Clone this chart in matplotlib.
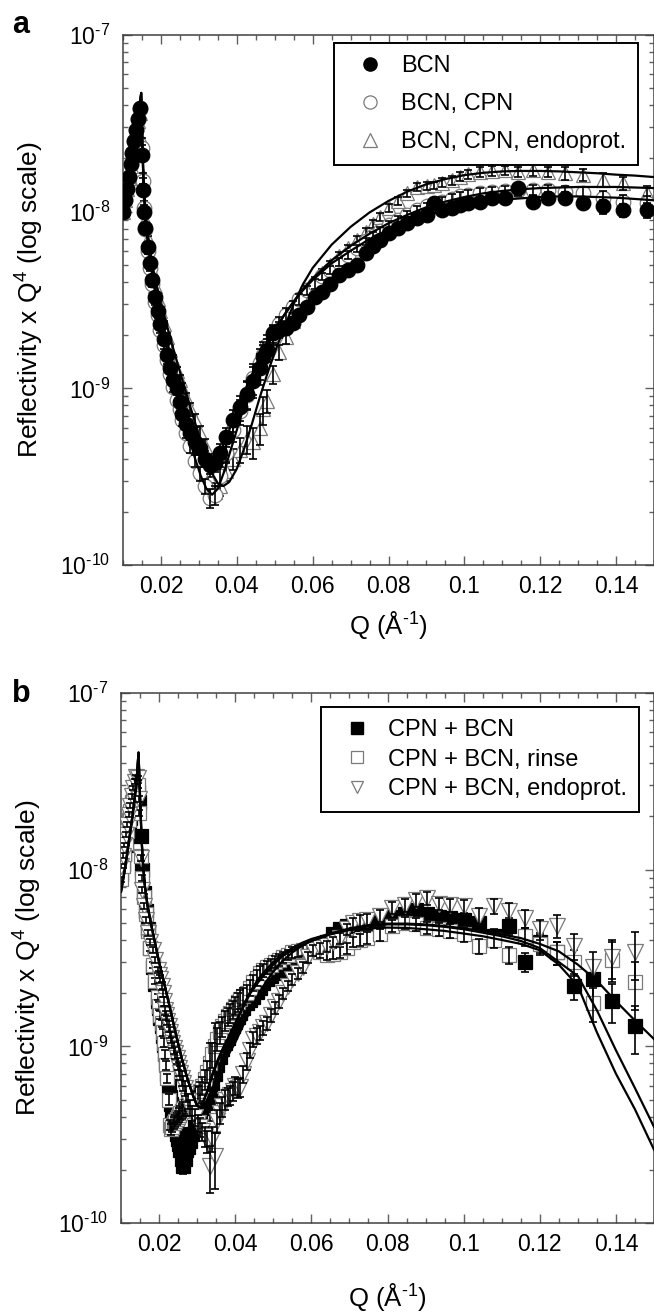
import numpy as np
import matplotlib
matplotlib.use('Agg')
import matplotlib.pyplot as plt
from matplotlib.lines import Line2D
from matplotlib.ticker import FixedLocator, MultipleLocator, LogLocator, NullFormatter

plt.rcParams['font.family'] = ['Liberation Sans', 'DejaVu Sans']
plt.rcParams['mathtext.fontset'] = 'custom'
plt.rcParams['mathtext.rm'] = 'Liberation Sans'
plt.rcParams['mathtext.it'] = 'Liberation Sans:italic'
plt.rcParams['mathtext.bf'] = 'Liberation Sans:bold'
plt.rcParams['axes.unicode_minus'] = False

# ---------------- panel a data ----------------
q_a = [0.0100, 0.0105, 0.0110, 0.0115, 0.0120, 0.0125, 0.0130, 0.0135, 0.0140, 0.0145,
       0.0150, 0.0153, 0.0156, 0.0159, 0.0165, 0.0171, 0.0177, 0.0184, 0.0191, 0.0198,
       0.0207, 0.0216, 0.0224, 0.0232, 0.0242, 0.0249, 0.0256, 0.0266, 0.0277, 0.0290,
       0.0303, 0.0316, 0.0329, 0.0342, 0.0356, 0.0372, 0.0390, 0.0408, 0.0427, 0.0444,
       0.0461, 0.0470, 0.0480, 0.0495, 0.0510, 0.0530, 0.0548, 0.0565, 0.0585, 0.0605,
       0.0625, 0.0646, 0.0670, 0.0693, 0.0717, 0.0740, 0.0760, 0.0778, 0.0800, 0.0825,
       0.0849, 0.0875, 0.0901, 0.0920, 0.0941, 0.0967, 0.0989, 0.1010, 0.1041, 0.1073,
       0.1107, 0.1141, 0.1181, 0.1221, 0.1265, 0.1313, 0.1366, 0.1418, 0.1481]

r_bcn = [1.00e-8, 1.17e-8, 1.35e-8, 1.58e-8, 1.85e-8, 2.15e-8, 2.50e-8, 2.90e-8, 3.35e-8, 3.85e-8,
         2.10e-8, 1.33e-8, 1.00e-8, 8.1e-9, 6.3e-9, 5.1e-9, 4.1e-9, 3.3e-9, 2.75e-9, 2.3e-9,
         1.9e-9, 1.55e-9, 1.3e-9, 1.12e-9, 1.0e-9, 8.4e-10, 7.2e-10, 6.3e-10, 5.6e-10, 5.0e-10,
         4.6e-10, 4.0e-10, 3.7e-10, 3.8e-10, 4.3e-10, 5.3e-10, 6.6e-10, 7.8e-10, 9.3e-10, 1.1e-9,
         1.3e-9, 1.5e-9, 1.65e-9, 2.05e-9, 2.15e-9, 2.2e-9, 2.35e-9, 2.6e-9, 2.9e-9, 3.3e-9,
         3.5e-9, 3.9e-9, 4.4e-9, 4.7e-9, 5.0e-9, 5.8e-9, 6.4e-9, 6.9e-9, 7.6e-9, 8.1e-9,
         8.6e-9, 9.2e-9, 9.6e-9, 1.12e-8, 1.02e-8, 1.05e-8, 1.09e-8, 1.12e-8, 1.14e-8, 1.2e-8,
         1.2e-8, 1.36e-8, 1.14e-8, 1.2e-8, 1.2e-8, 1.12e-8, 1.07e-8, 1.02e-8, 1.02e-8]

r_bcn_cpn = [1.00e-8, 1.17e-8, 1.36e-8, 1.58e-8, 1.85e-8, 2.15e-8, 2.50e-8, 2.90e-8, 3.35e-8, 3.80e-8,
             2.30e-8, 1.50e-8, 1.05e-8, 8.0e-9, 6.0e-9, 4.8e-9, 3.9e-9, 3.1e-9, 2.6e-9, 2.15e-9,
             1.75e-9, 1.45e-9, 1.2e-9, 1.02e-9, 8.6e-10, 7.6e-10, 6.6e-10, 5.6e-10, 4.7e-10, 3.9e-10,
             3.3e-10, 2.8e-10, 2.4e-10, 2.5e-10, 3.2e-10, 4.3e-10, 5.8e-10, 7.4e-10, 9.2e-10, 1.15e-9,
             1.4e-9, 1.55e-9, 1.75e-9, 2.0e-9, 2.3e-9, 2.6e-9, 2.9e-9, 3.2e-9, 3.6e-9, 3.9e-9,
             4.3e-9, 4.7e-9, 5.2e-9, 5.7e-9, 6.2e-9, 6.8e-9, 7.3e-9, 7.8e-9, 8.4e-9, 9.0e-9,
             9.6e-9, 1.02e-8, 1.07e-8, 1.1e-8, 1.14e-8, 1.18e-8, 1.22e-8, 1.25e-8, 1.28e-8, 1.3e-8,
             1.31e-8, 1.32e-8, 1.33e-8, 1.33e-8, 1.3e-8, 1.28e-8, 1.2e-8, 1.14e-8, 1.12e-8]

r_bcn_endo = [1.00e-8, 1.16e-8, 1.34e-8, 1.56e-8, 1.82e-8, 2.12e-8, 2.45e-8, 2.85e-8, 3.25e-8, 3.60e-8,
              2.50e-8, 1.60e-8, 1.10e-8, 9.0e-9, 7.0e-9, 5.6e-9, 4.6e-9, 3.8e-9, 3.2e-9, 2.75e-9,
              2.3e-9, 1.95e-9, 1.65e-9, 1.45e-9, 1.25e-9, 1.12e-9, 1.0e-9, 8.8e-10, 7.6e-10, 6.6e-10,
              5.6e-10, 4.7e-10, 3.6e-10, 2.6e-10, 2.8e-10, 3.4e-10, 4.0e-10, 4.5e-10, 5.2e-10, 5.0e-10,
              6.0e-10, 7.6e-10, 8.5e-10, 1.2e-9, 1.6e-9, 1.95e-9, 2.4e-9, 2.9e-9, 3.6e-9, 4.0e-9,
              4.5e-9, 5.0e-9, 5.6e-9, 6.2e-9, 6.9e-9, 7.7e-9, 8.5e-9, 9.3e-9, 1.05e-8, 1.15e-8,
              1.27e-8, 1.38e-8, 1.4e-8, 1.41e-8, 1.46e-8, 1.51e-8, 1.58e-8, 1.63e-8, 1.68e-8, 1.7e-8,
              1.72e-8, 1.68e-8, 1.72e-8, 1.68e-8, 1.65e-8, 1.62e-8, 1.51e-8, 1.45e-8, 1.27e-8]

err_a = [0.03, 0.03, 0.03, 0.03, 0.03, 0.03, 0.03, 0.03, 0.03, 0.03,
         0.04, 0.04, 0.04, 0.04, 0.04, 0.04, 0.04, 0.04, 0.04, 0.04,
         0.05, 0.05, 0.05, 0.06, 0.06, 0.06, 0.07, 0.07, 0.08, 0.08,
         0.09, 0.10, 0.12, 0.12, 0.12, 0.12, 0.14, 0.16, 0.18, 0.20,
         0.20, 0.18, 0.15, 0.12, 0.10, 0.09, 0.08, 0.07, 0.06, 0.06,
         0.05, 0.05, 0.05, 0.05, 0.05, 0.05, 0.05, 0.05, 0.05, 0.05,
         0.05, 0.05, 0.05, 0.05, 0.06, 0.06, 0.06, 0.06, 0.06, 0.06,
         0.06, 0.07, 0.07, 0.07, 0.08, 0.08, 0.09, 0.09, 0.10]

fq_a = [0.0100, 0.0110, 0.0120, 0.0130, 0.0140, 0.0148, 0.0151, 0.0154, 0.0158, 0.0163,
        0.0170, 0.0180, 0.0190, 0.0200, 0.0215, 0.0230, 0.0245, 0.0260, 0.0275, 0.0290,
        0.0305, 0.0320, 0.0335, 0.0350, 0.0365, 0.0380, 0.0400, 0.0420, 0.0440, 0.0460,
        0.0480, 0.0500, 0.0525, 0.0550, 0.0575, 0.0600, 0.0650, 0.0700, 0.0750, 0.0800,
        0.0850, 0.0900, 0.0950, 0.1000, 0.1050, 0.1100, 0.1150, 0.1200, 0.1250, 0.1300,
        0.1350, 0.1400, 0.1450, 0.1500]

fit_bcn = [1.0e-8, 1.3e-8, 1.75e-8, 2.4e-8, 3.4e-8, 4.7e-8, 2.4e-8, 1.45e-8, 1.0e-8, 7.5e-9,
           5.7e-9, 4.2e-9, 3.25e-9, 2.6e-9, 1.9e-9, 1.4e-9, 1.05e-9, 8.0e-10, 6.3e-10, 5.1e-10,
           4.3e-10, 3.9e-10, 3.8e-10, 4.1e-10, 4.8e-10, 5.8e-10, 7.5e-10, 9.6e-10, 1.2e-9, 1.5e-9,
           1.8e-9, 2.15e-9, 2.6e-9, 3.1e-9, 3.6e-9, 4.1e-9, 5.1e-9, 6.0e-9, 7.0e-9, 7.9e-9,
           8.7e-9, 9.5e-9, 1.02e-8, 1.08e-8, 1.13e-8, 1.17e-8, 1.19e-8, 1.21e-8, 1.22e-8, 1.22e-8,
           1.21e-8, 1.2e-8, 1.18e-8, 1.16e-8]

fit_bcn_cpn = [1.0e-8, 1.3e-8, 1.75e-8, 2.4e-8, 3.4e-8, 4.7e-8, 2.4e-8, 1.45e-8, 1.0e-8, 7.5e-9,
               5.6e-9, 4.0e-9, 3.0e-9, 2.35e-9, 1.7e-9, 1.25e-9, 9.2e-10, 6.9e-10, 5.2e-10, 4.0e-10,
               3.2e-10, 2.7e-10, 2.5e-10, 2.7e-10, 3.3e-10, 4.2e-10, 5.8e-10, 8.0e-10, 1.07e-9, 1.38e-9,
               1.72e-9, 2.1e-9, 2.6e-9, 3.1e-9, 3.65e-9, 4.2e-9, 5.3e-9, 6.4e-9, 7.5e-9, 8.6e-9,
               9.6e-9, 1.06e-8, 1.14e-8, 1.21e-8, 1.27e-8, 1.31e-8, 1.34e-8, 1.36e-8, 1.37e-8, 1.38e-8,
               1.38e-8, 1.38e-8, 1.37e-8, 1.36e-8]

fit_bcn_endo = [1.0e-8, 1.3e-8, 1.75e-8, 2.4e-8, 3.4e-8, 4.7e-8, 2.6e-8, 1.6e-8, 1.12e-8, 8.5e-9,
                6.3e-9, 4.7e-9, 3.7e-9, 3.0e-9, 2.3e-9, 1.75e-9, 1.35e-9, 1.05e-9, 8.2e-10, 6.4e-10,
                5.0e-10, 4.0e-10, 3.3e-10, 2.9e-10, 2.8e-10, 2.95e-10, 3.5e-10, 4.6e-10, 6.3e-10, 8.8e-10,
                1.2e-9, 1.6e-9, 2.2e-9, 3.0e-9, 3.9e-9, 4.8e-9, 6.5e-9, 8.2e-9, 9.9e-9, 1.15e-8,
                1.3e-8, 1.43e-8, 1.53e-8, 1.61e-8, 1.66e-8, 1.69e-8, 1.7e-8, 1.7e-8, 1.69e-8, 1.67e-8,
                1.65e-8, 1.62e-8, 1.6e-8, 1.57e-8]

# ---------------- panel b data ----------------
q_b = [0.0100, 0.0104, 0.0108, 0.0112, 0.0116, 0.0120, 0.0124, 0.0128, 0.0132, 0.0136, 0.0140, 0.0144,
       0.0148, 0.0152, 0.0156, 0.0161, 0.0166, 0.0171, 0.0177, 0.0184, 0.0190, 0.0197,
       0.0200, 0.0203, 0.0207, 0.0210, 0.0213, 0.0216, 0.0219, 0.0222, 0.0226, 0.0229,
       0.0232, 0.0235, 0.0239, 0.0242, 0.0246, 0.0249, 0.0252, 0.0255, 0.0259, 0.0263,
       0.0267, 0.0272, 0.0276, 0.0281, 0.0287, 0.0294, 0.0301, 0.0308, 0.0314, 0.0321,
       0.0327, 0.0334, 0.0340, 0.0347, 0.0353, 0.0360, 0.0366, 0.0373, 0.0380, 0.0386,
       0.0393, 0.0400, 0.0407, 0.0413, 0.0421, 0.0430, 0.0438, 0.0447, 0.0456, 0.0465,
       0.0474, 0.0484, 0.0494, 0.0505, 0.0515, 0.0526, 0.0538, 0.0550, 0.0564, 0.0578,
       0.0591, 0.0605, 0.0623, 0.0641, 0.0658, 0.0675, 0.0693, 0.0710, 0.0728, 0.0746,
       0.0780, 0.0812, 0.0845, 0.0875, 0.0905, 0.0935, 0.0965, 0.1000, 0.1040, 0.1080,
       0.1120, 0.1160, 0.1200, 0.1245, 0.1290, 0.1340, 0.1390, 0.1450]

r_cpn_bcn = [9.5e-9, 1.08e-8, 1.22e-8, 1.38e-8, 1.55e-8, 1.75e-8, 1.95e-8, 2.15e-8, 2.35e-8, 2.55e-8, 2.7e-8, 2.75e-8,
             2.4e-8, 1.55e-8, 1.0e-8, 7.4e-9, 5.8e-9, 4.6e-9, 3.6e-9, 2.8e-9, 2.25e-9, 1.8e-9,
             1.65e-9, 1.45e-9, 1.3e-9, 1.15e-9, 1.02e-9, 9.0e-10, 8.0e-10, 7.0e-10, 6.0e-10, 5.2e-10,
             4.7e-10, 4.2e-10, 3.8e-10, 3.5e-10, 3.2e-10, 3.0e-10, 2.8e-10, 2.6e-10, 2.3e-10, 2.1e-10,
             2.3e-10, 2.6e-10, 2.7e-10, 2.9e-10, 3.2e-10, 3.5e-10, 3.9e-10, 4.2e-10, 4.5e-10, 4.8e-10,
             5.1e-10, 5.4e-10, 6.2e-10, 7.0e-10, 7.8e-10, 8.7e-10, 9.6e-10, 1.05e-9, 1.12e-9, 1.2e-9,
             1.3e-9, 1.38e-9, 1.47e-9, 1.55e-9, 1.65e-9, 1.75e-9, 1.82e-9, 1.9e-9, 2.02e-9, 2.15e-9,
             2.28e-9, 2.4e-9, 2.5e-9, 2.6e-9, 2.65e-9, 2.7e-9, 2.85e-9, 3.0e-9, 3.2e-9, 3.4e-9,
             3.5e-9, 3.6e-9, 3.75e-9, 3.9e-9, 4.3e-9, 4.6e-9, 4.8e-9, 5.0e-9, 4.9e-9, 4.9e-9,
             5.2e-9, 5.4e-9, 5.6e-9, 5.9e-9, 5.6e-9, 5.4e-9, 5.3e-9, 5.2e-9, 5.0e-9, 4.2e-9,
             4.8e-9, 3.0e-9, 3.9e-9, 3.4e-9, 2.2e-9, 2.4e-9, 1.8e-9, 1.3e-9]

r_cpn_rinse = [8.8e-9, 1.05e-8, 1.22e-8, 1.42e-8, 1.65e-8, 1.9e-8, 2.15e-8, 2.4e-8, 2.65e-8, 2.85e-8, 3.0e-8, 3.0e-8,
               2.1e-8, 1.2e-8, 9.0e-9, 7.0e-9, 5.6e-9, 4.5e-9, 3.6e-9, 2.9e-9, 2.35e-9, 1.9e-9,
               1.7e-9, 1.5e-9, 1.35e-9, 1.2e-9, 1.05e-9, 9.0e-10, 7.8e-10, 6.6e-10, 5.0e-10, 3.6e-10,
               3.4e-10, 3.5e-10, 3.7e-10, 3.8e-10, 3.9e-10, 4.0e-10, 4.1e-10, 4.2e-10, 4.3e-10, 4.4e-10,
               4.5e-10, 4.6e-10, 4.8e-10, 5.0e-10, 5.1e-10, 5.3e-10, 5.4e-10, 5.6e-10, 6.0e-10, 6.5e-10,
               7.2e-10, 8.0e-10, 9.0e-10, 1.0e-9, 1.1e-9, 1.2e-9, 1.3e-9, 1.4e-9, 1.48e-9, 1.55e-9,
               1.62e-9, 1.7e-9, 1.78e-9, 1.85e-9, 1.92e-9, 2.0e-9, 2.15e-9, 2.3e-9, 2.45e-9, 2.6e-9,
               2.7e-9, 2.8e-9, 2.9e-9, 3.0e-9, 3.1e-9, 3.2e-9, 3.3e-9, 3.4e-9, 3.45e-9, 3.5e-9,
               3.5e-9, 3.5e-9, 3.4e-9, 3.3e-9, 3.35e-9, 3.4e-9, 3.6e-9, 3.9e-9, 4.0e-9, 4.1e-9,
               4.3e-9, 4.8e-9, 5.0e-9, 4.9e-9, 4.7e-9, 4.6e-9, 4.5e-9, 4.3e-9, 3.7e-9, 4.0e-9,
               3.3e-9, 4.2e-9, 3.8e-9, 3.4e-9, 3.0e-9, 1.75e-9, 3.1e-9, 2.3e-9]

r_cpn_endo = [1.05e-8, 1.2e-8, 1.38e-8, 1.58e-8, 1.8e-8, 2.05e-8, 2.3e-8, 2.6e-8, 2.9e-8, 3.15e-8, 3.35e-8, 3.3e-8,
              2.5e-8, 1.17e-8, 7.7e-9, 6.2e-9, 5.2e-9, 4.4e-9, 3.9e-9, 3.5e-9, 3.1e-9, 2.7e-9,
              2.55e-9, 2.4e-9, 2.2e-9, 2.0e-9, 1.8e-9, 1.6e-9, 1.5e-9, 1.4e-9, 1.3e-9, 1.2e-9,
              1.12e-9, 1.05e-9, 9.8e-10, 9.2e-10, 8.6e-10, 8.0e-10, 7.5e-10, 7.1e-10, 6.6e-10, 6.2e-10,
              5.8e-10, 5.4e-10, 4.9e-10, 4.5e-10, 4.2e-10, 4.0e-10, 3.7e-10, 3.5e-10, 3.3e-10, 3.1e-10,
              2.9e-10, 2.1e-10, 3.0e-10, 2.4e-10, 3.8e-10, 4.2e-10, 4.6e-10, 5.0e-10, 5.2e-10, 5.3e-10,
              5.6e-10, 6.0e-10, 5.8e-10, 5.9e-10, 7.0e-10, 8.3e-10, 9.5e-10, 1.1e-9, 1.15e-9, 1.2e-9,
              1.28e-9, 1.35e-9, 1.5e-9, 1.66e-9, 1.8e-9, 2.0e-9, 2.2e-9, 2.4e-9, 2.6e-9, 2.8e-9,
              3.2e-9, 3.5e-9, 3.6e-9, 3.7e-9, 3.9e-9, 4.1e-9, 4.6e-9, 5.0e-9, 5.1e-9, 5.2e-9,
              5.5e-9, 6.1e-9, 6.3e-9, 6.7e-9, 6.9e-9, 6.4e-9, 6.3e-9, 6.2e-9, 5.5e-9, 6.2e-9,
              5.8e-9, 5.3e-9, 4.6e-9, 4.8e-9, 3.7e-9, 2.8e-9, 3.2e-9, 3.4e-9]

err_b = [0.03, 0.03, 0.03, 0.03, 0.03, 0.03, 0.03, 0.03, 0.03, 0.03, 0.03, 0.03,
         0.04, 0.04, 0.04, 0.04, 0.04, 0.04, 0.04, 0.04, 0.04, 0.04,
         0.05, 0.05, 0.05, 0.05, 0.06, 0.06, 0.06, 0.06, 0.07, 0.07,
         0.07, 0.07, 0.08, 0.08, 0.08, 0.08, 0.09, 0.09, 0.10, 0.10,
         0.10, 0.10, 0.10, 0.10, 0.10, 0.11, 0.11, 0.12, 0.12, 0.13,
         0.14, 0.30, 0.16, 0.35, 0.15, 0.14, 0.13, 0.13, 0.12, 0.12,
         0.12, 0.12, 0.12, 0.12, 0.11, 0.11, 0.10, 0.10, 0.10, 0.09,
         0.09, 0.08, 0.08, 0.08, 0.08, 0.07, 0.07, 0.07, 0.07, 0.07,
         0.07, 0.07, 0.07, 0.07, 0.07, 0.07, 0.07, 0.07, 0.08, 0.08,
         0.08, 0.08, 0.08, 0.08, 0.08, 0.08, 0.09, 0.09, 0.10, 0.10,
         0.11, 0.12, 0.13, 0.15, 0.17, 0.22, 0.25, 0.30]

fq_b = [0.0100, 0.0110, 0.0120, 0.0130, 0.0140, 0.0146, 0.0150, 0.0154, 0.0158, 0.0163,
        0.0170, 0.0180, 0.0190, 0.0200, 0.0215, 0.0230, 0.0245, 0.0260, 0.0275, 0.0290,
        0.0300, 0.0310, 0.0325, 0.0340, 0.0355, 0.0370, 0.0385, 0.0400, 0.0420, 0.0440,
        0.0460, 0.0480, 0.0500, 0.0525, 0.0550, 0.0575, 0.0600, 0.0650, 0.0700, 0.0750,
        0.0800, 0.0850, 0.0900, 0.0950, 0.1000, 0.1050, 0.1100, 0.1150, 0.1200, 0.1250,
        0.1300, 0.1350, 0.1400, 0.1450, 0.1500]

fit_cpn_bcn = [7.5e-9, 1.0e-8, 1.4e-8, 2.0e-8, 3.0e-8, 4.6e-8, 2.6e-8, 1.5e-8, 1.05e-8, 8.0e-9,
               6.2e-9, 4.8e-9, 3.8e-9, 3.0e-9, 2.2e-9, 1.6e-9, 1.15e-9, 8.5e-10, 6.5e-10, 5.2e-10,
               4.6e-10, 4.5e-10, 5.5e-10, 7.0e-10, 8.5e-10, 1.0e-9, 1.15e-9, 1.35e-9, 1.65e-9, 2.0e-9,
               2.3e-9, 2.6e-9, 2.9e-9, 3.25e-9, 3.5e-9, 3.75e-9, 3.95e-9, 4.3e-9, 4.6e-9, 4.8e-9,
               4.9e-9, 4.9e-9, 4.85e-9, 4.75e-9, 4.6e-9, 4.4e-9, 4.2e-9, 3.95e-9, 3.6e-9, 3.0e-9,
               2.5e-9, 1.6e-9, 9.5e-10, 5.8e-10, 3.5e-10]

fit_cpn_rinse = [7.5e-9, 1.0e-8, 1.4e-8, 2.0e-8, 3.0e-8, 4.6e-8, 2.6e-8, 1.5e-8, 1.05e-8, 8.0e-9,
                 6.2e-9, 4.8e-9, 3.8e-9, 3.0e-9, 2.2e-9, 1.6e-9, 1.15e-9, 8.5e-10, 6.5e-10, 5.2e-10,
                 4.6e-10, 4.5e-10, 5.4e-10, 6.8e-10, 8.3e-10, 9.8e-10, 1.15e-9, 1.35e-9, 1.68e-9, 2.05e-9,
                 2.4e-9, 2.7e-9, 3.0e-9, 3.35e-9, 3.6e-9, 3.85e-9, 4.05e-9, 4.35e-9, 4.55e-9, 4.65e-9,
                 4.7e-9, 4.68e-9, 4.6e-9, 4.5e-9, 4.35e-9, 4.2e-9, 4.0e-9, 3.8e-9, 3.5e-9, 2.9e-9,
                 2.2e-9, 1.2e-9, 7.0e-10, 4.4e-10, 2.6e-10]

fit_cpn_endo = [7.5e-9, 1.0e-8, 1.4e-8, 2.0e-8, 3.0e-8, 4.6e-8, 2.6e-8, 1.5e-8, 1.05e-8, 8.0e-9,
                6.2e-9, 4.8e-9, 3.8e-9, 3.0e-9, 2.2e-9, 1.6e-9, 1.15e-9, 8.5e-10, 6.5e-10, 5.2e-10,
                4.6e-10, 4.5e-10, 4.9e-10, 5.8e-10, 6.9e-10, 8.0e-10, 9.2e-10, 1.05e-9, 1.3e-9, 1.6e-9,
                1.95e-9, 2.3e-9, 2.65e-9, 3.05e-9, 3.4e-9, 3.7e-9, 3.95e-9, 4.35e-9, 4.65e-9, 4.85e-9,
                4.95e-9, 4.95e-9, 4.9e-9, 4.8e-9, 4.65e-9, 4.5e-9, 4.3e-9, 4.1e-9, 3.8e-9, 3.45e-9,
                2.9e-9, 2.35e-9, 1.8e-9, 1.4e-9, 1.1e-9]

x_ticks = [0.02, 0.04, 0.06, 0.08, 0.10, 0.12, 0.14]
x_tick_labels = ['0.02', '0.04', '0.06', '0.08', '0.1', '0.12', '0.14']
y_ticks = [1e-10, 1e-9, 1e-8, 1e-7]
y_tick_labels = [r'$10^{\text{-10}}$', r'$10^{\text{-9}}$', r'$10^{\text{-8}}$', r'$10^{\text{-7}}$']

legend_a = ['BCN', 'BCN, CPN', 'BCN, CPN, endoprot.']
legend_b = ['CPN + BCN', 'CPN + BCN, rinse', 'CPN + BCN, endoprot.']

GRAY = '#7a7a7a'
W, H = 654, 1314


def style_axes(ax, xlabel_y):
    ax.set_yscale('log')
    ax.set_xlim(0.01, 0.15)
    ax.set_ylim(1e-10, 1e-7)
    ax.xaxis.set_major_locator(FixedLocator(x_ticks))
    ax.xaxis.set_minor_locator(MultipleLocator(0.005))
    ax.set_xticklabels(x_tick_labels)
    ax.yaxis.set_major_locator(FixedLocator(y_ticks))
    ax.yaxis.set_minor_locator(LogLocator(base=10, subs=np.arange(2, 10)))
    ax.yaxis.set_minor_formatter(NullFormatter())
    ax.set_yticklabels(y_tick_labels)
    ax.tick_params(which='both', direction='in', top=True, right=True,
                   color='#606060', width=1.0, labelsize=16.5)
    ax.tick_params(which='major', length=6.5)
    ax.tick_params(which='minor', length=3.5)
    ax.tick_params(axis='y', pad=9)
    ax.tick_params(axis='x', pad=7)
    for s in ax.spines.values():
        s.set_color('#404040')
        s.set_linewidth(1.1)
    ax.set_ylabel(r'Reflectivity x Q$^4$ (log scale)', fontsize=19)
    ax.yaxis.set_label_coords(-0.145, 0.5)
    ax.set_xlabel(r'Q (Å$^{\text{-1}}$)', fontsize=18.5, va='baseline')
    ax.xaxis.set_label_coords(0.5, xlabel_y)


def plot_series(ax, q, r, err, marker, ms, face, edge, z):
    q = np.array(q)
    r = np.array(r)
    e = np.array(err) * r
    ax.plot(q, r, ls='none', marker=marker, ms=ms, mfc=face, mec=edge, mew=0.9, zorder=z)
    ax.errorbar(q, r, yerr=e, fmt='none', ecolor='black', elinewidth=1.2,
                capsize=2.8, capthick=1.2, zorder=z + 0.1)


fig = plt.figure(figsize=(W / 100, H / 100), dpi=100)
ax_a = fig.add_axes([123 / W, 1 - 565 / H, 531 / W, 530 / H])
ax_b = fig.add_axes([121 / W, 1 - 1223 / H, 533 / W, 530 / H])

# panel a
plot_series(ax_a, q_a, r_bcn_endo, err_a, '^', 10.5, 'white', GRAY, 2)
plot_series(ax_a, q_a, r_bcn_cpn, err_a, 'o', 10.5, 'white', GRAY, 3)
plot_series(ax_a, q_a, r_bcn, err_a, 'o', 10.5, 'black', 'black', 4)
for f in (fit_bcn, fit_bcn_cpn, fit_bcn_endo):
    ax_a.plot(fq_a, f, color='black', lw=1.6, zorder=6)
style_axes(ax_a, -0.130)

# panel b
plot_series(ax_b, q_b, r_cpn_bcn, err_b, 's', 9.5, 'black', 'black', 2)
plot_series(ax_b, q_b, r_cpn_rinse, err_b, 's', 9.5, 'white', GRAY, 3)
plot_series(ax_b, q_b, r_cpn_endo, err_b, 'v', 11, 'white', GRAY, 4)
for f in (fit_cpn_bcn, fit_cpn_rinse, fit_cpn_endo):
    ax_b.plot(fq_b, f, color='black', lw=1.6, zorder=6)
style_axes(ax_b, -0.157)

# legends
leg_kw = dict(loc='upper right', bbox_transform=fig.transFigure, fontsize=17, frameon=True,
              fancybox=False, framealpha=1, edgecolor='black', borderpad=0.5,
              handlelength=2.1, handletextpad=0.26, borderaxespad=0)
h_a = [Line2D([], [], ls='none', marker='o', ms=9.5, mfc='black', mec='black'),
       Line2D([], [], ls='none', marker='o', ms=9.5, mfc='white', mec=GRAY, mew=0.9),
       Line2D([], [], ls='none', marker='^', ms=9.5, mfc='white', mec=GRAY, mew=0.9)]
leg = ax_a.legend(h_a, legend_a, bbox_to_anchor=(638 / W, 1 - 43 / H), labelspacing=0.68, **leg_kw)
leg.get_frame().set_linewidth(1.4)

h_b = [Line2D([], [], ls='none', marker='s', ms=8.5, mfc='black', mec='black'),
       Line2D([], [], ls='none', marker='s', ms=8.5, mfc='white', mec=GRAY, mew=0.9),
       Line2D([], [], ls='none', marker='v', ms=9, mfc='white', mec=GRAY, mew=0.9)]
leg = ax_b.legend(h_b, legend_b, bbox_to_anchor=(639 / W, 1 - 707 / H), labelspacing=0.33, **leg_kw)
leg.get_frame().set_linewidth(1.4)

fig.text(12 / W, 1 - 33 / H, 'a', fontsize=22, fontweight='bold', va='baseline')
fig.text(12 / W, 1 - 702 / H, 'b', fontsize=22, fontweight='bold', va='baseline')

fig.savefig('out.png', dpi=100)
